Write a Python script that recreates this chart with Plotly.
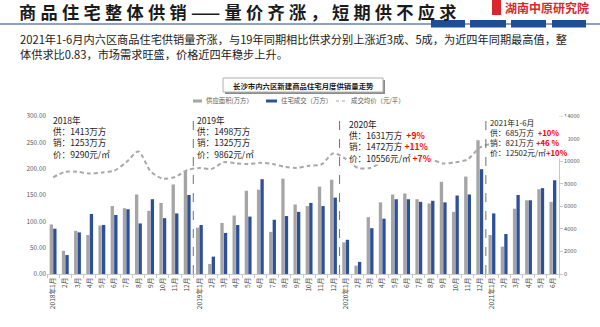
import plotly.graph_objects as go

# ---------------- data ----------------
periods = [f"{y}-{m:02d}" for y in (2018, 2019, 2020) for m in range(1, 13)] + \
          [f"2021-{m:02d}" for m in range(1, 7)]

tick_labels = [
    "2018年1月", "2月", "3月", "4月", "5月", "6月", "7月", "8月", "9月", "10月", "11月", "12月",
    "2019年1月", "2月", "3月", "4月", "5月", "6月", "7月", "8月", "9月", "10月", "11月", "12月",
    "2020年1月", "2月", "3月", "4月", "5月", "6月", "7月", "8月", "9月", "10月", "11月", "12月",
    "2021年1月", "2月", "3月", "4月", "5月", "6月",
]

supply = [  # 供应面积（万方）
    94, 44, 82, 74, 92, 129, 125, 151, 120, 135, 170, 196,
    88, 19, 97, 111, 158, 160, 80, 181, 132, 129, 166, 179,
    60, 16, 108, 136, 151, 153, 142, 134, 175, 118, 185, 254,
    74, 52, 124, 140, 161, 137,
]

sales = [  # 住宅成交（万方）
    86, 36, 79, 114, 93, 112, 123, 96, 142, 106, 115, 150,
    93, 33, 78, 93, 109, 180, 103, 110, 118, 135, 129, 145,
    65, 23, 87, 105, 142, 142, 137, 139, 136, 149, 151, 199,
    115, 76, 150, 140, 163, 178,
]

price = [  # 成交均价（元/平）
    8570, 9050, 9050, 8900, 9000, 9150, 9900, 10850, 9100, 8450, 8600, 9200,
    9390, 9310, 9900, 9800, 9750, 9850, 9750, 9500, 9400, 9600, 9700, 10700,
    10200, 9400, 9400, 9900, 10300, 10330, 10250, 10150, 9800, 9900, 10150, 11200,
    11600, 12100, 12400, 12700, 12900, 12900,
]

year_boxes = [
    ("2018年", "供：1413万方", "销：1253万方", "价：9290元/㎡", "", "", ""),
    ("2019年", "供：1498万方", "销：1325万方", "价：9862元/㎡", "", "", ""),
    ("2020年", "供：1631万方", "销：1472万方", "价：10556元/㎡", "+9%", "+11%", "+7%"),
    ("2021年1-6月", "供：685万方", "销：821万方", "价：12502元/㎡", "+10%", "+46 %", "+10%"),
]
year_box_x = [-0.08, 11.72, 24.2, 35.75]
year_box_top = [112.5, 112.5, 117, 115.5]
year_box_size = [8.6, 8.6, 8.6, 7.8]
year_sep = [11.5, 23.5, 35.5]

title_text = "商品住宅整体供销——量价齐涨，短期供不应求"
para1 = "2021年1-6月内六区商品住宅供销量齐涨，与19年同期相比供求分别上涨近3成、5成，为近四年同期最高值，整"
para2 = "体供求比0.83，市场需求旺盛，价格近四年稳步上升。"
chart_title = "长沙市内六区新建商品住宅月度供销量走势"
legend_names = ["供应面积(万方）", "住宅成交（万方）", "成交均价（元/平）"]

# ---------------- style ----------------
FONT = "Noto Sans CJK SC"
GRAY = "#a5a5a5"
BLUE = "#2e509b"
PL, PR, PT, PB = 47, 559, 116, 274


def fx(px):
    return (px - PL) / (PR - PL)


def fy(py):
    return (PB - py) / (PB - PT)


fig = go.Figure()
fig.add_trace(go.Bar(x=periods, y=supply, name=legend_names[0], marker_color=GRAY,
                     marker_line_width=0))
fig.add_trace(go.Bar(x=periods, y=sales, name=legend_names[1], marker_color=BLUE,
                     marker_line_width=0))
fig.add_trace(go.Scatter(x=periods, y=price, name=legend_names[2], yaxis="y2", mode="lines",
                         line=dict(color="#a8a8a8", width=2, dash="4px,3px", shape="spline",
                                   smoothing=0.8)))

shapes = []
annotations = []

# top decoration
shapes.append(dict(type="line", xref="paper", yref="paper", x0=fx(0), x1=fx(600),
                   y0=fy(24), y1=fy(24), line=dict(color="#8aa4c8", width=2)))
for a, b in [(431, 465), (470, 506), (511, 546), (552, 586)]:
    shapes.append(dict(type="rect", xref="paper", yref="paper", x0=fx(a), x1=fx(b),
                       y0=fy(27.5), y1=fy(20), fillcolor="#1f4e99", line=dict(width=0)))
shapes.append(dict(type="rect", xref="paper", yref="paper", x0=fx(492), x1=fx(501),
                   y0=fy(15), y1=fy(0), fillcolor="#d9262c", line=dict(width=0)))

title_spaced = "\u2005".join(title_text).replace("—\u2005—", "——")
annotations.append(dict(text=f"<b>{title_spaced}</b>", xref="paper", yref="paper",
                        x=fx(17), y=fy(11), xanchor="left", yanchor="middle", showarrow=False,
                        font=dict(family=FONT, size=17.2, color="#1a1a1a")))
annotations.append(dict(text="<b>湖南中原研究院</b>", xref="paper", yref="paper",
                        x=fx(503), y=fy(7), xanchor="left", yanchor="middle", showarrow=False,
                        font=dict(family=FONT, size=12, color="#d9262c")))
annotations.append(dict(text=para1 + "<br>" + para2, xref="paper", yref="paper", x=fx(18),
                        y=fy(46), xanchor="left", yanchor="middle", align="left",
                        showarrow=False,
                        font=dict(family=FONT, size=11.2, color="#1a1a1a")))

# chart title box
shapes.append(dict(type="rect", xref="paper", yref="paper", x0=fx(225), x1=fx(385),
                   y0=fy(94), y1=fy(80), fillcolor="#8c8c8c", line=dict(width=0)))
shapes.append(dict(type="rect", xref="paper", yref="paper", x0=fx(223), x1=fx(383),
                   y0=fy(92), y1=fy(78), fillcolor="white",
                   line=dict(color="#b0b0b0", width=1)))
annotations.append(dict(text=f"<b>{chart_title}</b>", xref="paper", yref="paper",
                        x=fx(303), y=fy(85), xanchor="center", yanchor="middle", showarrow=False,
                        font=dict(family=FONT, size=7.4, color="#1a1a1a")))

# legend
shapes.append(dict(type="line", xref="paper", yref="paper", x0=fx(193), x1=fx(202),
                   y0=fy(101), y1=fy(101), line=dict(color=GRAY, width=3)))
shapes.append(dict(type="line", xref="paper", yref="paper", x0=fx(266), x1=fx(277),
                   y0=fy(101), y1=fy(101), line=dict(color=BLUE, width=3)))
shapes.append(dict(type="line", xref="paper", yref="paper", x0=fx(336), x1=fx(347),
                   y0=fy(101), y1=fy(101), line=dict(color="#a8a8a8", width=1.2, dash="dot")))
for txt, px in zip(legend_names, [204, 279, 349]):
    annotations.append(dict(text=txt, xref="paper", yref="paper", x=fx(px), y=fy(101),
                            xanchor="left", yanchor="middle", showarrow=False,
                            font=dict(family=FONT, size=6.4, color="#595959")))

# year separators
for sx in year_sep:
    shapes.append(dict(type="line", xref="x", yref="paper", x0=sx, x1=sx, y0=0, y1=fy(117),
                       line=dict(color="#6f6f6f", width=1, dash="dash")))

# year info boxes
for box, bx, top, fs in zip(year_boxes, year_box_x, year_box_top, year_box_size):
    head, s, xs, p, r1, r2, r3 = box
    red = lambda t: f"<span style='color:#ff0000'><b>{t}</b></span>" if t else ""
    lines = [head,
             s + ("  " + red(r1) if r1 else ""),
             xs + (" " + red(r2) if r2 else ""),
             p + ((" " if len(head) < 6 else "") + red(r3) if r3 else "")]
    annotations.append(dict(text="<br>".join(lines), xref="x", yref="paper", x=bx, y=fy(top),
                            xanchor="left", yanchor="top", align="left", showarrow=False,
                            bgcolor="white", borderpad=0,
                            font=dict(family=FONT, size=fs, color="#1a1a1a")))

fig.update_layout(
    width=600, height=327,
    margin=dict(l=PL, r=600 - PR, t=PT, b=327 - PB),
    paper_bgcolor="white", plot_bgcolor="white",
    showlegend=False,
    barmode="group", bargap=0.42, bargroupgap=0.06,
    font=dict(family=FONT, color="#404040"),
    shapes=shapes, annotations=annotations,
    xaxis=dict(type="category", categoryorder="array", categoryarray=periods,
               tickvals=periods, ticktext=tick_labels, tickangle=-90,
               tickfont=dict(family=FONT, size=6.6, color="#404040"),
               range=[-0.5, len(periods) - 0.5],
               showline=True, linecolor="#c8c8c8", linewidth=1,
               ticks="outside", ticklen=3, tickcolor="#c8c8c8", tickson="boundaries",
               showgrid=False),
    yaxis=dict(range=[0, 300], tickvals=[0, 50, 100, 150, 200, 250, 300], tickformat=".2f",
               tickfont=dict(family=FONT, size=6.4, color="#595959"),
               showgrid=False, zeroline=False, showline=False, ticks=""),
    yaxis2=dict(overlaying="y", side="right", range=[0, 14000],
                tickvals=[0, 2000, 4000, 6000, 8000, 10000, 12000, 14000], tickformat="d",
                tickfont=dict(family=FONT, size=5.6, color="#595959"),
                showgrid=False, zeroline=False, showline=True, linecolor="#c8c8c8",
                ticks="outside", ticklen=3, tickcolor="#c8c8c8"),
)

fig.write_html("out.html")
